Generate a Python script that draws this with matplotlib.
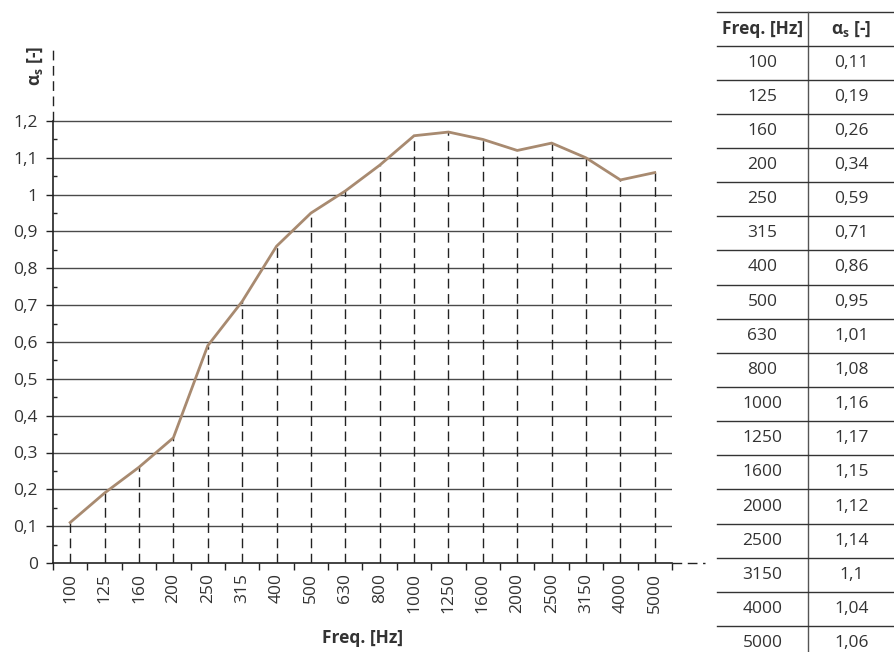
import matplotlib
matplotlib.use("Agg")
import matplotlib.pyplot as plt
from matplotlib.lines import Line2D
import numpy as np

plt.rcParams['font.family'] = ['Open Sans', 'DejaVu Sans']
plt.rcParams['mathtext.fontset'] = 'custom'
plt.rcParams['mathtext.rm'] = 'Open Sans'
plt.rcParams['mathtext.bf'] = 'Open Sans:bold'

freqs = ['100', '125', '160', '200', '250', '315', '400', '500', '630', '800',
         '1000', '1250', '1600', '2000', '2500', '3150', '4000', '5000']
alpha = [0.11, 0.19, 0.26, 0.34, 0.59, 0.71, 0.86, 0.95, 1.01, 1.08,
         1.16, 1.17, 1.15, 1.12, 1.14, 1.10, 1.04, 1.06]
yticks = [0, 0.1, 0.2, 0.3, 0.4, 0.5, 0.6, 0.7, 0.8, 0.9, 1.0, 1.1, 1.2]

TXT = '#333333'
LINE = '#a88a70'
FS = 12.5

W, H = 895, 652
fig = plt.figure(figsize=(W / 100, H / 100), dpi=100)

# axes: x 53..672 px, y 563 (0) .. 45 (top)
ax_l, ax_r = 53, 672
y0_px, y12_px = 563, 121
ytop_val = 1.2 + (y12_px - 45) / ((y0_px - y12_px) / 1.2)
ax = fig.add_axes([ax_l / W, (H - y0_px) / H, (ax_r - ax_l) / W, (y0_px - 45) / H])
n = len(freqs)
x = np.arange(n)
ax.set_xlim(-0.5, n - 0.5)
ax.set_ylim(0, ytop_val)
for s in ax.spines.values():
    s.set_visible(False)

# grid lines
for yv in yticks[1:]:
    ax.axhline(yv, color='#4a4a4a', lw=1.0, zorder=1)

# vertical dashed droplines
for xi, yi in zip(x, alpha):
    ax.plot([xi, xi], [0, yi], color='#222222', lw=1.0, dashes=(7, 4), zorder=2)

ax.plot(x, alpha, color=LINE, lw=2.0, zorder=3, solid_joinstyle='miter')

# axes lines
ax.plot([-0.5, -0.5], [0, 1.2], color='#222222', lw=1.2, clip_on=False, zorder=4)
ax.plot([-0.5, -0.5], [1.2, ytop_val], color='#222222', lw=1.0, dashes=(7, 4), clip_on=False, zorder=4)
ax.plot([-0.5, n - 0.5], [0, 0], color='#222222', lw=1.2, clip_on=False, zorder=4)
ax.plot([n - 0.5, n + 0.45], [0, 0], color='#222222', lw=1.0, dashes=(7, 4), clip_on=False, zorder=4)

# y ticks
ax.set_yticks(yticks)
ax.set_yticklabels([('%g' % v).replace('.', ',') for v in yticks], fontsize=FS, color=TXT)
ax.set_yticks(np.arange(0.05, 1.2, 0.1), minor=True)
ax.tick_params(axis='y', which='major', direction='out', length=5, width=1, color='#222222', pad=6)
ax.tick_params(axis='y', which='minor', direction='in', length=3, width=1, color='#222222')

# x ticks: boundaries as ticks, labels at centers
ax.set_xticks(np.arange(-0.5, n + 0.5, 1.0))
ax.set_xticklabels([])
ax.set_xticks(x, minor=True)
ax.set_xticklabels(freqs, minor=True, rotation=90, fontsize=FS, color=TXT)
ax.tick_params(axis='x', which='major', direction='out', length=5, width=1, color='#222222')
ax.tick_params(axis='x', which='minor', length=0, pad=7)

ax.set_xlabel('Freq. [Hz]', fontsize=FS, fontweight='bold', color=TXT, labelpad=12)
fig.text(35 / W, 1 - 66 / H, r'α$_{\mathregular{s}}$ [-]', rotation=90, fontsize=FS,
         fontweight='bold', color=TXT, ha='center', va='center')

# table
tx0, tx1, txm = 717, 895, 808
def fy(py):
    return 1 - py / H
fig.add_artist(Line2D([tx0 / W, tx1 / W], [fy(12), fy(12)], color='#333333', lw=1.0))
row_h = 34.15
header_bot = 45.5
fig.add_artist(Line2D([txm / W, txm / W], [fy(12), 0], color='#555555', lw=1.0))
fig.text((tx0 + txm) / 2 / W, fy(29), 'Freq. [Hz]', fontsize=FS, fontweight='bold',
         color=TXT, ha='center', va='center')
fig.text((txm + tx1) / 2 / W, fy(29), r'α$_{\mathregular{s}}$ [-]', fontsize=FS, fontweight='bold',
         color=TXT, ha='center', va='center')
for i, (f, a) in enumerate(zip(freqs, alpha)):
    top = header_bot + i * row_h
    fig.add_artist(Line2D([tx0 / W, tx1 / W], [fy(top), fy(top)], color='#333333', lw=1.0))
    cy = top + row_h / 2
    fig.text((tx0 + txm) / 2 / W, fy(cy), f, fontsize=FS, color=TXT, ha='center', va='center')
    fig.text((txm + tx1) / 2 / W, fy(cy), ('%g' % a).replace('.', ','), fontsize=FS,
             color=TXT, ha='center', va='center')

fig.savefig('out.png', dpi=100)
